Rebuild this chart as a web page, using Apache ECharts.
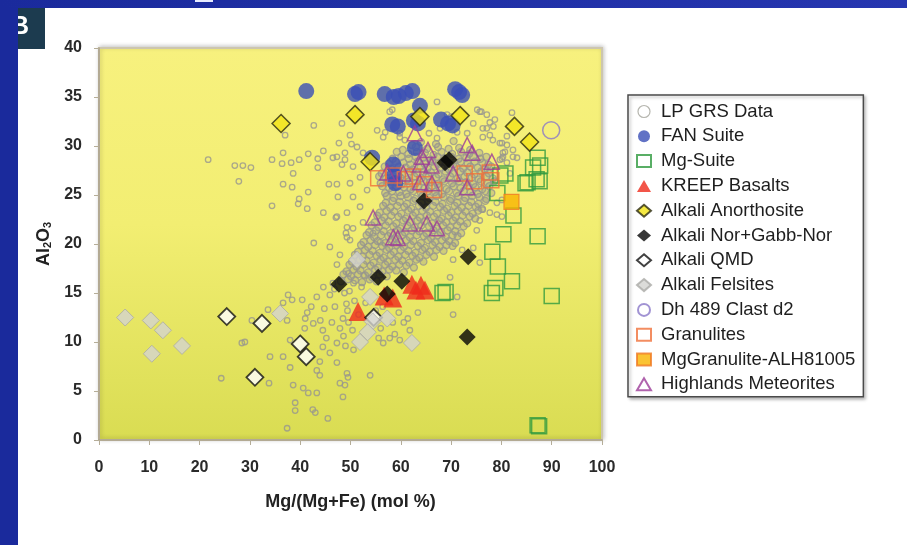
<!DOCTYPE html>
<html>
<head>
<meta charset="utf-8">
<script src="https://cdn.jsdelivr.net/npm/echarts@6/dist/echarts.min.js"></script>
<style>
  html, body { margin: 0; padding: 0; background: #fff; }
  #chart { width: 907px; height: 545px; }
</style>
</head>
<body>
<div id="chart"></div>
<script>
// legend names, in the order shown
var seriesNames = ['LP GRS Data', 'FAN Suite', 'Mg-Suite', 'KREEP Basalts', 'Alkali Anorthosite',
  'Alkali Nor+Gabb-Nor', 'Alkali QMD', 'Alkali Felsites', 'Dh 489 Clast d2', 'Granulites',
  'MgGranulite-ALH81005', 'Highlands Meteorites'];

var xTicks = [0, 10, 20, 30, 40, 50, 60, 70, 80, 90, 100];
var yTicks = [0, 5, 10, 15, 20, 25, 30, 35, 40];

// [Mg/(Mg+Fe), Al2O3]
// LP GRS, scattered points
var lpGrsOuter = [
  [21.7,28.6],[27.0,28.0],[28.6,28.0],[30.2,27.8],[27.8,26.4],[34.4,28.6],[36.6,29.3],[36.4,28.2],[38.2,28.3],[39.8,28.6],
  [41.6,29.2],[43.5,28.7],[44.6,29.5],[42.7,32.1],[48.3,32.3],[37.0,31.1],[38.6,27.2],[36.6,26.1],[38.4,25.8],[41.6,25.3],
  [34.4,23.9],[39.8,24.6],[39.6,24.1],[41.4,23.6],[44.6,23.2],[47.1,22.7],[47.5,24.8],[45.7,26.1],[47.3,26.1],[43.5,27.8],
  [46.5,28.8],[47.3,28.9],[47.7,30.3],[48.9,29.3],[48.3,28.1],[42.7,20.1],[45.9,19.7],[49.1,21.1],[47.9,18.9],[47.3,17.9],
  [46.5,16.0],[37.6,14.8],[38.4,14.3],[36.6,14.0],[40.4,14.3],[43.3,14.6],[45.9,14.8],[33.6,13.3],[37.4,12.2],[41.4,13.0],
  [44.0,12.2],[46.3,12.0],[48.5,12.4],[30.4,12.2],[40.9,11.4],[44.5,11.2],[47.9,11.4],[28.4,9.9],[29.0,10.0],[38.0,10.2],
  [34.0,8.5],[36.6,8.5],[38.0,7.4],[44.5,9.5],[47.3,9.9],[45.9,8.9],[43.9,8.0],[43.3,7.1],[47.3,7.9],[24.3,6.3],
  [33.8,5.8],[38.6,5.6],[40.6,5.3],[43.3,4.8],[41.6,4.8],[43.9,6.6],[39.0,3.8],[39.0,3.0],[42.5,3.1],[43.0,2.8],
  [45.5,2.2],[37.4,1.2],[47.9,5.8],[49.3,6.8],[48.5,4.4],[48.9,5.6],[49.5,6.4],[53.9,6.6],[70.4,12.8],[59.8,10.2],
  [57.8,10.4],[56.5,9.9],[61.8,11.2],[61.4,12.4],[63.4,13.0],[71.2,14.6],[69.8,16.6],[70.4,18.4],[74.4,19.6],
  [67.2,34.5],[58.3,33.7],[69.2,33.2],[70.0,33.0],[75.2,33.7],[76.0,33.5],[82.1,33.4],[77.7,32.4],[78.4,32.0],[77.1,31.8],
  [74.4,32.3],[55.3,31.6],[56.5,30.9],[49.9,31.1],[50.2,30.2],[51.3,29.9],[52.5,29.3],[48.9,28.6],[50.5,27.9],[51.9,26.8],
  [49.9,26.2],[53.3,25.5],[50.5,24.8],[51.9,23.8],[49.3,23.2],[52.5,22.2],[50.5,21.6],[54.5,21.1],[49.9,20.4],[55.9,20.2],
  [81.1,30.1],[82.3,29.6],[80.3,29.3],[79.7,28.6],[78.3,30.6],[76.3,30.9],[71.2,31.4],[67.8,31.8],[65.6,31.3],[59.8,31.3],
  [60.8,30.6],[57.8,33.5],[75.7,33.5],[77.1,33.2],[78.7,32.7],[73.2,31.3],[76.3,31.8],[77.7,31.1],[81.1,31.0],[79.7,30.3],
  [80.3,28.9],[83.1,28.8],[56.9,31.4],[59.8,30.9],[67.2,30.8],
  [79.1,23.0],[77.7,23.2],[76.3,23.5],[75.7,22.4],[75.1,21.4],[72.2,19.4],[75.7,18.1],[79.1,24.2],[80.1,30.3],[80.7,29.4],
  [80.1,28.7],[81.1,28.3],[82.3,28.9],[81.7,27.2],[80.1,24.5],[80.1,22.8],[49.3,21.7],[49.3,20.7],[47.3,22.8],
  [42.2,13.6],[44.8,13.4],[46.9,13.6],[49.2,13.9],[42.6,11.9],[45.2,10.4],[48.6,10.6],[41.0,12.4],[49.6,12.0],[46.8,15.4],
  [48.8,15.0],[44.6,15.6],[49.6,17.0],[50.6,16.0],[49.8,15.2],[50.8,14.2],[49.4,13.2],[51.6,12.8],[50.4,11.2],[49.0,9.6],
  [50.6,9.2],[52.2,15.6],[53.0,14.0],[52.6,16.8],[55.0,13.2],[56.4,13.6],[56.0,11.4],[58.4,12.0],[59.6,13.0],[60.6,12.0],
  [58.8,10.8],[55.6,10.4]
];
// LP GRS, dense central cloud
var lpGrsCore = [
  [64.0,30.4],[67.0,30.2],[70.5,30.5],[62.2,30.1],
  [63.0,29.9],[65.2,29.7],[67.4,29.9],[69.5,29.7],[71.6,29.8],[73.8,29.6],[60.4,29.6],
  [61.5,29.2],[63.2,29.4],[64.8,29.3],[66.5,29.1],[68.1,29.4],[70.2,29.2],[72.0,29.4],[73.6,29.2],[75.6,29.3],[59.2,29.4],
  [58.4,28.7],[60.1,28.9],[61.6,28.7],[63.0,28.9],[64.4,28.8],[65.9,28.6],[67.3,28.9],[68.7,28.7],[70.0,28.9],[71.5,28.7],[73.0,28.8],[74.4,28.9],[75.8,28.7],[77.0,28.9],
  [57.6,28.2],[59.0,28.4],[60.5,28.3],[61.9,28.1],[63.3,28.4],[64.7,28.2],[66.2,28.4],[67.6,28.2],[69.0,28.3],[70.4,28.1],[71.9,28.4],[73.3,28.2],[74.7,28.4],[76.2,28.3],[77.4,28.1],
  [56.8,27.9],[58.1,27.7],[59.6,27.9],[61.0,27.8],[62.4,27.6],[63.9,27.9],[65.3,27.7],[66.7,27.9],[68.1,27.8],[69.6,27.6],[71.0,27.9],[72.4,27.7],[73.8,27.9],[75.3,27.8],[76.7,27.6],[78.0,27.9],
  [56.2,27.2],[57.6,27.4],[59.0,27.3],[60.3,27.1],[61.8,27.4],[63.2,27.2],[64.6,27.4],[66.0,27.3],[67.5,27.1],[68.9,27.4],[70.3,27.2],[71.8,27.4],[73.2,27.3],[74.6,27.1],[76.0,27.4],[77.5,27.2],
  [55.7,26.9],[57.1,26.7],[58.5,26.9],[59.9,26.8],[61.3,26.6],[62.7,26.9],[64.1,26.7],[65.6,26.9],[67.0,26.8],[68.4,26.6],[69.8,26.9],[71.3,26.7],[72.7,26.9],[74.1,26.8],[75.5,26.6],[77.0,26.9],[78.3,26.7],
  [56.0,26.2],[57.4,26.4],[58.8,26.3],[60.2,26.1],[61.6,26.4],[63.0,26.2],[64.5,26.4],[65.9,26.3],[67.3,26.1],[68.7,26.4],[70.2,26.2],[71.6,26.4],[73.0,26.3],[74.4,26.1],[75.9,26.4],[77.3,26.2],[78.6,26.4],
  [56.3,25.9],[57.7,25.7],[59.1,25.9],[60.6,25.8],[62.0,25.6],[63.4,25.9],[64.8,25.7],[66.2,25.9],[67.7,25.8],[69.1,25.6],[70.5,25.9],[71.9,25.7],[73.4,25.9],[74.8,25.8],[76.2,25.6],[77.6,25.9],
  [56.9,25.2],[58.3,25.4],[59.7,25.3],[61.1,25.1],[62.5,25.4],[64.0,25.2],[65.4,25.4],[66.8,25.3],[68.2,25.1],[69.6,25.4],[71.1,25.2],[72.5,25.4],[73.9,25.3],[75.3,25.1],[76.8,25.4],[78.0,25.2],
  [57.2,24.9],[58.6,24.7],[60.0,24.9],[61.4,24.8],[62.9,24.6],[64.3,24.9],[65.7,24.7],[67.1,24.9],[68.5,24.8],[70.0,24.6],[71.4,24.9],[72.8,24.7],[74.2,24.9],[75.6,24.8],[77.0,24.6],
  [57.0,24.2],[58.4,24.4],[59.8,24.3],[61.2,24.1],[62.6,24.4],[64.1,24.2],[65.5,24.4],[66.9,24.3],[68.3,24.1],[69.8,24.4],[71.2,24.2],[72.6,24.4],[74.0,24.3],[75.4,24.1],[76.8,24.4],
  [56.5,23.9],[57.9,23.7],[59.3,23.9],[60.7,23.8],[62.1,23.6],[63.6,23.9],[65.0,23.7],[66.4,23.9],[67.8,23.8],[69.2,23.6],[70.7,23.9],[72.1,23.7],[73.5,23.9],[74.9,23.8],[76.1,23.6],
  [55.8,23.2],[57.2,23.4],[58.7,23.3],[60.1,23.1],[61.5,23.4],[62.9,23.2],[64.3,23.4],[65.8,23.3],[67.2,23.1],[68.6,23.4],[70.0,23.2],[71.4,23.4],[72.9,23.3],[74.3,23.1],[75.4,23.4],
  [55.3,22.9],[56.7,22.7],[58.1,22.9],[59.5,22.8],[61.0,22.6],[62.4,22.9],[63.8,22.7],[65.2,22.9],[66.6,22.8],[68.1,22.6],[69.5,22.9],[70.9,22.7],[72.3,22.9],[73.7,22.8],[74.8,22.6],
  [54.8,22.2],[56.2,22.4],[57.6,22.3],[59.1,22.1],[60.5,22.4],[61.9,22.2],[63.3,22.4],[64.7,22.3],[66.2,22.1],[67.6,22.4],[69.0,22.2],[70.4,22.4],[71.8,22.3],[73.2,22.1],
  [54.2,21.9],[55.6,21.7],[57.0,21.9],[58.5,21.8],[59.9,21.6],[61.3,21.9],[62.7,21.7],[64.1,21.9],[65.6,21.8],[67.0,21.6],[68.4,21.9],[69.8,21.7],[71.2,21.9],[72.5,21.8],
  [53.7,21.2],[55.1,21.4],[56.6,21.3],[58.0,21.1],[59.4,21.4],[60.8,21.2],[62.2,21.4],[63.7,21.3],[65.1,21.1],[66.5,21.4],[67.9,21.2],[69.3,21.4],[70.8,21.3],[72.0,21.1],
  [53.2,20.9],[54.7,20.7],[56.1,20.9],[57.5,20.8],[58.9,20.6],[60.3,20.9],[61.8,20.7],[63.2,20.9],[64.6,20.8],[66.0,20.6],[67.4,20.9],[68.9,20.7],[70.3,20.9],[71.3,20.8],
  [52.6,20.2],[54.0,20.4],[55.4,20.3],[56.9,20.1],[58.3,20.4],[59.7,20.2],[61.1,20.4],[62.5,20.3],[64.0,20.1],[65.4,20.4],[66.8,20.2],[68.2,20.4],[69.6,20.3],[70.8,20.1],
  [52.1,19.9],[53.5,19.7],[54.9,19.9],[56.3,19.8],[57.7,19.6],[59.2,19.9],[60.6,19.7],[62.0,19.9],[63.4,19.8],[64.8,19.6],[66.3,19.9],[67.7,19.7],[69.1,19.9],[70.3,19.8],
  [51.5,19.2],[52.9,19.4],[54.4,19.3],[55.8,19.1],[57.2,19.4],[58.6,19.2],[60.0,19.4],[61.5,19.3],[62.9,19.1],[64.3,19.4],[65.7,19.2],[67.1,19.4],[68.5,19.3],
  [50.9,18.9],[52.4,18.7],[53.8,18.9],[55.2,18.8],[56.6,18.6],[58.0,18.9],[59.5,18.7],[60.9,18.9],[62.3,18.8],[63.7,18.6],[65.1,18.9],[66.6,18.7],
  [50.3,18.2],[51.8,18.4],[53.2,18.3],[54.6,18.1],[56.0,18.4],[57.4,18.2],[58.9,18.4],[60.3,18.3],[61.7,18.1],[63.1,18.4],[64.5,18.2],
  [49.8,17.9],[51.2,17.7],[52.6,17.9],[54.0,17.8],[55.5,17.6],[56.9,17.9],[58.3,17.7],[59.7,17.9],[61.1,17.8],[62.6,17.6],
  [49.2,17.2],[50.6,17.4],[52.0,17.3],[53.5,17.1],[54.9,17.4],[56.3,17.2],[57.7,17.4],[59.1,17.3],[60.6,17.1],
  [48.6,16.9],[50.1,16.7],[51.5,16.9],[52.9,16.8],[54.3,16.6],[55.8,16.9],[57.2,16.7],
  [48.1,16.2],[49.5,16.4],[50.9,16.3],[52.3,16.1],[53.8,16.4],[55.2,16.2]
];
var fanSuite = [[41.2,35.6],[50.9,35.3],[51.6,35.5],[56.8,35.3],[58.6,35.0],[59.6,35.1],[61.0,35.4],[62.3,35.6],[63.8,34.1],
  [70.8,35.8],[71.6,35.5],[72.2,35.2],[58.3,32.2],[59.4,32.0],[62.6,32.6],[63.4,32.3],[68.0,32.7],[69.4,32.3],[70.3,32.1],
  [62.8,29.8],[54.3,28.8],[58.5,28.1],[58.7,27.0],[58.9,26.2]];
var mgSuite = [[87.2,28.8],[87.7,28.0],[86.3,27.8],[85.2,26.3],[87.0,26.6],[80.8,27.2],[79.8,27.0],[84.8,26.2],[79.2,25.2],
  [82.4,22.9],[80.4,21.0],[87.2,20.8],[78.2,19.2],[79.3,17.7],[82.1,16.2],[78.1,15.0],[78.8,15.5],[68.9,15.1],[68.3,15.0],
  [90.0,14.7],[87.2,1.5],[87.5,1.4],[87.6,26.4]];
var kreep = [[51.5,13.1],[56.7,14.7],[58.4,14.5],[62.2,15.9],[64.0,15.8],[64.8,15.3],[63.0,15.3]];
var alkAnorthosite = [[36.2,32.3],[50.9,33.2],[63.8,33.0],[71.8,33.1],[82.6,32.0],[85.6,30.4],[53.9,28.4]];
var alkNorite = [[47.7,15.9],[55.5,16.6],[57.3,14.9],[60.2,16.2],[64.6,24.4],[68.8,28.3],[69.6,28.6],[73.4,18.7],[73.2,10.5]];
var alkQmd = [[25.4,12.6],[32.4,11.9],[40.0,9.8],[41.2,8.5],[31.0,6.4],[54.6,12.5]];
var alkFelsites = [[5.2,12.5],[10.3,12.2],[12.7,11.2],[16.5,9.6],[10.5,8.8],[36.0,12.9],[51.3,18.4],[53.9,14.6],[54.4,12.1],
  [57.3,12.4],[51.9,10.0],[53.4,11.0],[62.2,9.9]];
var dh489 = [[89.9,31.6]];
var granulites = [[55.5,26.7],[58.6,27.0],[60.8,26.6],[62.4,26.9],[64.7,26.1],[66.6,25.5],[72.7,27.2],[74.6,26.4],[77.7,27.3],[78.0,26.5]];
var mgGranulite = [[82.0,24.3]];
var highlands = [[62.8,31.3],[73.2,30.1],[74.2,29.3],[78.1,28.4],[65.4,29.6],[64.2,28.9],[63.8,28.1],[66.1,28.0],[57.3,27.3],
  [60.5,27.2],[63.8,26.3],[66.2,26.2],[70.4,27.2],[73.2,25.8],[54.5,22.7],[61.8,22.1],[65.2,22.1],[67.2,21.6],[58.5,20.7],[59.4,20.6]];

var FONT = '"Liberation Sans", Arial, sans-serif';
var lpData = lpGrsOuter.concat(lpGrsCore);

function scatter(name, data, symbol, size, style) {
  return {
    name: name,
    type: 'scatter',
    data: data,
    symbol: symbol,
    symbolSize: size,
    itemStyle: style,
    emphasis: { disabled: true }
  };
}

function inCore(params) {
  return params.dataIndex >= lpGrsOuter.length;
}

// legend entries; the LP GRS key is an open ring
var legendData = seriesNames.map(function (n, i) {
  if (i === 0) {
    return { name: n, itemStyle: { color: 'rgba(255,255,255,0)', borderColor: '#a3a29a', borderWidth: 1.2 } };
  }
  return { name: n };
});

var chart = echarts.init(document.getElementById('chart'), null, { renderer: 'canvas' });

chart.setOption({
  animation: false,
  backgroundColor: '#fff',
  textStyle: { fontFamily: FONT },
  graphic: [
    { type: 'rect', z: 10, shape: { x: 18, y: 8, width: 27, height: 41 }, style: { fill: '#1c3b4f' } },
    { type: 'text', z: 11, x: 11, y: 15, style: { text: 'B', fill: '#fff', font: 'bold 25px ' + FONT,
      shadowColor: 'rgba(230,130,40,0.9)', shadowOffsetX: 1, shadowOffsetY: 1 } },
    { type: 'rect', z: 12, shape: { x: 0, y: 0, width: 18, height: 545 }, style: { fill: '#1a2a9c' } },
    { type: 'rect', z: 12, shape: { x: 0, y: 0, width: 907, height: 8 },
      style: { fill: new echarts.graphic.LinearGradient(0, 0, 1, 0, [{ offset: 0, color: '#1a2a9c' }, { offset: 1, color: '#2636b0' }]) } },
    { type: 'rect', z: 13, shape: { x: 195, y: 0, width: 18, height: 2 }, style: { fill: '#e8ecff' } }
  ],
  grid: {
    left: 99, right: 305, top: 48, bottom: 105,
    show: true,
    backgroundColor: new echarts.graphic.LinearGradient(0, 0, 0, 1, [
      { offset: 0, color: '#f7f17e' },
      { offset: 0.45, color: '#f2ee72' },
      { offset: 1, color: '#d9dc52' }
    ]),
    borderColor: '#cdc6ae',
    borderWidth: 2,
    shadowColor: 'rgba(0,0,0,0.2)',
    shadowBlur: 4,
    shadowOffsetX: 1,
    shadowOffsetY: -1
  },
  xAxis: {
    type: 'value', min: 0, max: 100, interval: 10,
    name: 'Mg/(Mg+Fe) (mol %)',
    nameLocation: 'middle',
    nameGap: 53,
    nameTextStyle: { fontFamily: FONT, fontWeight: 'bold', fontSize: 18, color: '#222' },
    axisLine: { show: true, lineStyle: { color: '#aaa18b', width: 1.5 } },
    axisTick: { show: true, length: 5, lineStyle: { color: '#b5ad98' } },
    axisLabel: { fontFamily: FONT, fontWeight: 'bold', fontSize: 16, color: '#2a2a2a', margin: 20 },
    splitLine: { show: false }
  },
  yAxis: {
    type: 'value', min: 0, max: 40, interval: 5,
    name: '{a|Al}{b|2}{a|O}{b|3}',
    nameLocation: 'middle',
    nameGap: 46,
    nameRotate: 90,
    nameTextStyle: {
      color: '#222',
      rich: {
        a: { fontFamily: FONT, fontWeight: 'bold', fontSize: 18, color: '#222' },
        b: { fontFamily: FONT, fontWeight: 'bold', fontSize: 11, color: '#222', verticalAlign: 'bottom', padding: [7, 0, 0, 0] }
      }
    },
    axisLine: { show: true, lineStyle: { color: '#aaa18b', width: 1.5 } },
    axisTick: { show: true, length: 5, lineStyle: { color: '#b5ad98' } },
    axisLabel: { fontFamily: FONT, fontWeight: 'bold', fontSize: 16, color: '#2a2a2a', margin: 17 },
    splitLine: { show: false }
  },
  legend: {
    orient: 'vertical',
    left: 628,
    top: 95,
    padding: [7, 8, 3, 8],
    itemWidth: 14,
    itemHeight: 12,
    itemGap: 5.8,
    backgroundColor: '#fff',
    borderColor: '#4a4a4a',
    borderWidth: 1.5,
    shadowColor: 'rgba(0,0,0,0.25)',
    shadowBlur: 3,
    shadowOffsetX: 2,
    shadowOffsetY: 2,
    textStyle: { fontFamily: FONT, fontSize: 18.5, color: '#1e1e1e', lineHeight: 15, padding: [0, 0, 0, 5] },
    data: legendData
  },
  series: [
    {
      name: seriesNames[0],
      type: 'scatter',
      data: lpData,
      symbol: 'circle',
      // rings in the packed central cloud are drawn a little heavier
      symbolSize: function (val, params) { return inCore(params) ? 7 : 5.5; },
      itemStyle: {
        color: function (params) { return inCore(params) ? 'rgba(150,150,140,0.45)' : 'rgba(255,255,255,0)'; },
        borderColor: '#97968f',
        borderWidth: 1.3
      },
      emphasis: { disabled: true }
    },
    scatter(seriesNames[1], fanSuite, 'circle', 16, { color: '#3a4fb6' }),
    scatter(seriesNames[2], mgSuite, 'rect', 15,
      { color: 'rgba(255,255,255,0)', borderColor: '#2f9a3e', borderWidth: 1.5 }),
    scatter(seriesNames[3], kreep, 'triangle', 19, { color: '#ef2b1c' }),
    scatter(seriesNames[4], alkAnorthosite, 'diamond', 18,
      { color: '#f2e414', borderColor: '#2a2a10', borderWidth: 1.5 }),
    scatter(seriesNames[5], alkNorite, 'diamond', 17, { color: '#050505' }),
    scatter(seriesNames[6], alkQmd, 'diamond', 17,
      { color: '#ffffff', borderColor: '#111', borderWidth: 1.8 }),
    scatter(seriesNames[7], alkFelsites, 'diamond', 17,
      { color: '#d3d3d0', borderColor: '#aaaaa6', borderWidth: 1 }),
    scatter(seriesNames[8], dh489, 'circle', 17,
      { color: 'rgba(255,255,255,0)', borderColor: '#8a78c8', borderWidth: 1.5 }),
    scatter(seriesNames[9], granulites, 'rect', 15,
      { color: 'rgba(255,255,255,0)', borderColor: '#f0703a', borderWidth: 1.5 }),
    scatter(seriesNames[10], mgGranulite, 'rect', 15,
      { color: '#f9b400', borderColor: '#f07a24', borderWidth: 1.2 }),
    scatter(seriesNames[11], highlands, 'triangle', 15,
      { color: 'rgba(255,255,255,0)', borderColor: '#9c3c98', borderWidth: 1.5 })
  ]
});
</script>
</body>
</html>
